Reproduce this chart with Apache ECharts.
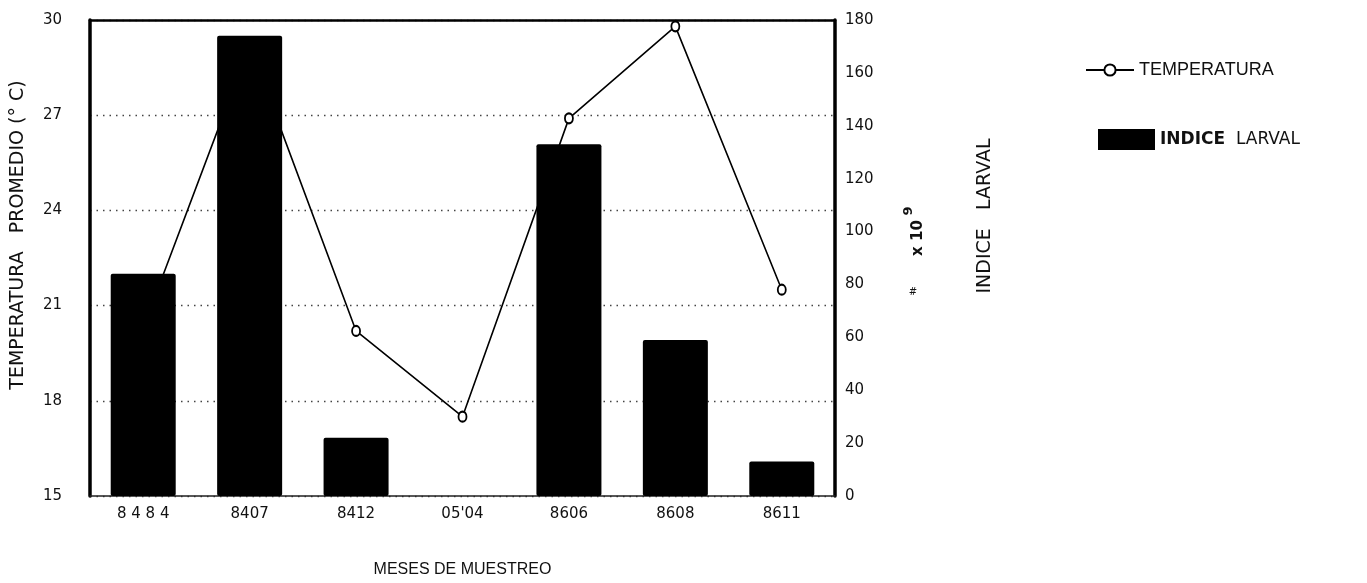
<!DOCTYPE html>
<html>
<head>
<meta charset="utf-8">
<script src="https://cdn.jsdelivr.net/npm/echarts@6/dist/echarts.min.js"></script>
<style>
  html, body { margin: 0; padding: 0; background: #fff; }
  #chart { width: 1367px; height: 583px; }
</style>
</head>
<body>
<div id="chart"></div>
<script>
// sampling months (x axis)
const meses = ['8 4 8 4', '8407', '8412', "05'04", '8606', '8608', '8611']
// mean temperature, °C (left axis)
const temperatura = [20.3, 29.2, 20.2, 17.5, 26.9, 29.8, 21.5]
// larval index, x 10^9 (right axis)
const indiceLarval = [84, 174, 22, 0, 133, 59, 13]

const tempMin = 15, tempMax = 30, tempStep = 3
const larvaMin = 0, larvaMax = 180, larvaStep = 20

const FONT = 'DejaVu Sans'
const chart = echarts.init(document.getElementById('chart'))

chart.setOption({
  animation: false,
  backgroundColor: '#fff',
  textStyle: { fontFamily: FONT, color: '#111' },
  grid: { left: 90, right: 532, top: 20, bottom: 81 },
  legend: [
    {
      data: ['TEMPERATURA'],
      left: 1080, top: 56,
      itemWidth: 48, itemHeight: 14, itemGap: 10,
      textStyle: { fontFamily: 'Liberation Sans', fontSize: 18, color: '#111' },
    },
    {
      data: [{ name: 'INDICE  LARVAL', icon: 'rect' }],
      left: 1093, top: 124,
      itemWidth: 57, itemHeight: 21, itemGap: 4,
      formatter: () => '{b|INDICE}  LARVAL',
      textStyle: {
        fontFamily: FONT, fontSize: 17, color: '#111',
        rich: { b: { fontFamily: FONT, fontSize: 17, fontWeight: 'bold', color: '#111' } },
      },
    },
  ],
  xAxis: [
    {
      type: 'category',
      data: meses,
      name: 'MESES DE MUESTREO',
      nameLocation: 'middle',
      nameGap: 66,
      nameTextStyle: { fontFamily: 'Liberation Sans', fontSize: 16, color: '#111' },
      axisLine: { lineStyle: { color: '#222', width: 1.5 } },
      axisTick: { alignWithLabel: true, length: 5, lineStyle: { color: '#222', width: 1.5 } },
      axisLabel: { fontFamily: FONT, fontSize: 15, color: '#111', margin: 11 },
    },
    {
      type: 'category',
      data: meses,
      position: 'top',
      axisLine: { lineStyle: { color: '#000', width: 2.5 } },
      axisTick: { show: false },
      axisLabel: { show: false },
    },
  ],
  yAxis: [
    {
      type: 'value',
      min: tempMin, max: tempMax, interval: tempStep,
      axisLine: { show: true, lineStyle: { color: '#000', width: 3.5 } },
      axisTick: { show: false },
      axisLabel: { fontFamily: FONT, fontSize: 15, color: '#111', margin: 28 },
      splitLine: {
        show: true,
        lineStyle: { color: '#444', type: [1.5, 5], width: 1.3 },
      },
    },
    {
      type: 'value',
      min: larvaMin, max: larvaMax, interval: larvaStep,
      position: 'right',
      axisLine: { show: true, lineStyle: { color: '#000', width: 3.5 } },
      axisTick: { show: false },
      axisLabel: { fontFamily: FONT, fontSize: 15, color: '#111', margin: 10 },
      splitLine: { show: false },
    },
  ],
  graphic: [
    {
      type: 'text', x: 18, y: 235, rotation: Math.PI / 2,
      style: {
        text: 'TEMPERATURA   PROMEDIO (° C)',
        font: '19px ' + FONT, fill: '#111',
        align: 'center', verticalAlign: 'middle',
      },
    },
    {
      type: 'text', x: 985, y: 216, rotation: Math.PI / 2,
      style: {
        text: 'INDICE   LARVAL',
        font: '19px ' + FONT, fill: '#111',
        align: 'center', verticalAlign: 'middle',
      },
    },
    {
      type: 'text', x: 918, y: 238, rotation: Math.PI / 2,
      style: {
        text: 'x 10',
        font: 'bold 15px ' + FONT, fill: '#111',
        align: 'center', verticalAlign: 'middle',
      },
    },
    {
      type: 'text', x: 909, y: 211, rotation: Math.PI / 2,
      style: {
        text: '9',
        font: 'bold 13px ' + FONT, fill: '#111',
        align: 'center', verticalAlign: 'middle',
      },
    },
    {
      type: 'text', x: 913, y: 292,
      style: {
        text: '#',
        font: '10px ' + FONT, fill: '#111',
        align: 'center', verticalAlign: 'middle',
      },
    },
  ],
  series: [
    {
      name: 'TEMPERATURA',
      type: 'line',
      data: temperatura,
      yAxisIndex: 0,
      z: 1,
      symbol: 'emptyCircle',
      symbolSize: [8, 10],
      itemStyle: { color: '#000', borderColor: '#000', borderWidth: 2 },
      lineStyle: { color: '#000', width: 1.6 },
    },
    {
      name: 'INDICE  LARVAL',
      type: 'bar',
      data: indiceLarval,
      yAxisIndex: 1,
      z: 3,
      barWidth: 65,
      itemStyle: { color: '#000', borderRadius: 2 },
    },
  ],
})
</script>
</body>
</html>
